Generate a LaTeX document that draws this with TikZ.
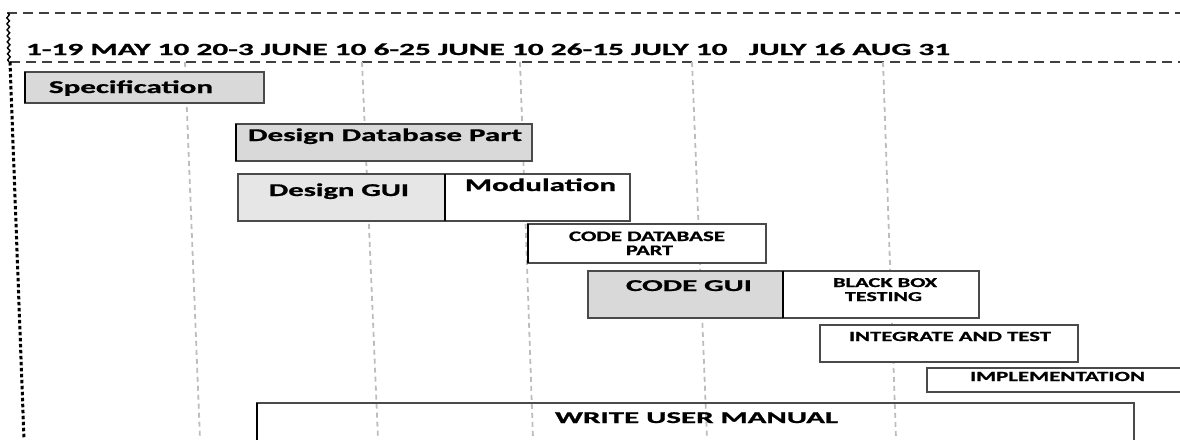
\documentclass[tikz,border=0pt]{standalone}
\usepackage{fontspec}
\setmainfont{Carlito}[BoldFeatures={FakeBold=0.8}]
\usetikzlibrary{decorations.pathmorphing}
\definecolor{boxgray}{HTML}{D9D9D9}
\definecolor{boxlight}{HTML}{E6E6E6}
\definecolor{gridgray}{HTML}{BDBDBD}
\definecolor{edge}{HTML}{4A4A4A}
% \tw{width}{size}{text}: bold text stretched to a given width
\newcommand{\tw}[3]{\resizebox{#1pt}{\height}{\fontsize{#2}{#2}\selectfont\bfseries #3}}
\tikzset{
  lbl/.style={anchor=base west, inner sep=0pt, outer sep=0pt},
  bar/.style={draw=edge, line width=1.1pt},
  thickedge/.style={draw=black, line width=2.6pt},
  gridline/.style={draw=gridgray, line width=1.8pt, dash pattern=on 5pt off 4pt},
  hdash/.style={draw=black!75, line width=1.7pt, dash pattern=on 10pt off 6pt},
}
\begin{document}
\begin{tikzpicture}[x=1pt,y=1pt]
\useasboundingbox (0,0) rectangle (1180,-439);
\clip (0,0) rectangle (1180,-439);
% header dashed frame
\draw[hdash] (7,-13) -- (1180,-13);
\draw[hdash] (10,-62) -- (1180,-62);
\draw[black, line width=1.4pt, decorate, decoration={snake, segment length=6pt, amplitude=1.3pt}] (8,-13) -- (9,-62);
\draw[black, line width=3pt, dash pattern=on 3.5pt off 2.5pt] (10,-62) -- (24,-439);
% header text
\node[lbl] (hdr) at (26,-55) {\tw{924}{17}{1-19 MAY 10 20-3 JUNE 10 6-25 JUNE 10 26-15 JULY 10 \ \ JULY 16 AUG 31}};
% vertical grid lines
\coordinate (g1t) at (185,-62);  \coordinate (g1b) at (200,-439);
\coordinate (g2t) at (362,-62);  \coordinate (g2b) at (378,-439);
\coordinate (g3t) at (520,-62);  \coordinate (g3b) at (533,-439);
\coordinate (g4t) at (692,-62);  \coordinate (g4b) at (707,-439);
\coordinate (g5t) at (883,-62);  \coordinate (g5b) at (896,-439);
\foreach \i in {1,...,5} {\draw[gridline] (g\i t) -- (g\i b);}
% Specification
\draw[bar, fill=boxgray] (25,-72) rectangle (264,-103);
\draw[thickedge] (25,-72) -- (25,-103);
\node[lbl] (spec) at (49,-93) {\tw{164}{18}{Specification}};
% Design Database Part
\draw[bar, fill=boxgray] (236,-124) rectangle (532,-161);
\draw[thickedge] (236,-124) -- (236,-161);
\node[lbl] (ddb) at (248,-141) {\tw{274}{18}{Design Database Part}};
% Design GUI + Modulation
\draw[bar, fill=boxlight] (238,-174) rectangle (445,-221);
\node[lbl] (dgui) at (269,-196) {\tw{140}{18}{Design GUI}};
\draw[bar, fill=white] (445,-174) rectangle (630,-221);
\draw[thickedge] (445,-174) -- (445,-221);
\node[lbl] (mod) at (465,-191) {\tw{151}{18}{Modulation}};
% Code database part
\draw[bar, fill=white] (528,-224) rectangle (766,-263);
\draw[thickedge] (528,-224) -- (528,-263);
\node[lbl] (cdb1) at (569,-241) {\tw{156}{14.5}{CODE DATABASE}};
\node[lbl] (cdb2) at (626,-255) {\tw{47}{14.5}{PART}};
% Code GUI + Black box testing
\draw[bar, fill=boxgray] (588,-271) rectangle (783,-318);
\node[lbl] (cgui) at (626,-291) {\tw{126}{16.5}{CODE GUI}};
\draw[bar, fill=white] (783,-271) rectangle (979,-318);
\draw[thickedge] (783,-271) -- (783,-318);
\node[lbl] (bbt1) at (833,-287) {\tw{104}{13.5}{BLACK BOX}};
\node[lbl] (bbt2) at (845,-301) {\tw{77}{13.5}{TESTING}};
% Integrate and test
\draw[bar, fill=white] (820,-325) rectangle (1078,-362);
\node[lbl] (intg) at (849,-341) {\tw{202}{14}{INTEGRATE AND TEST}};
% Implementation
\draw[bar, fill=white] (927,-368) rectangle (1190,-392);
\node[lbl] (impl) at (970,-381) {\tw{175}{14}{IMPLEMENTATION}};
% Write user manual
\draw[bar] (257,-403) rectangle (1134,-450);
\draw[thickedge] (257,-403) -- (257,-450);
\node[lbl] (wum) at (555,-423) {\tw{283}{16.5}{WRITE USER MANUAL}};
\end{tikzpicture}
\end{document}
